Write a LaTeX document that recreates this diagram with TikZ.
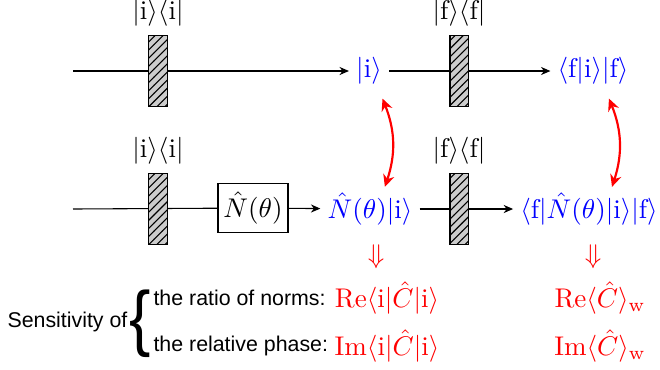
\documentclass[tikz,border=0pt]{standalone}
\usepackage{fontspec}
\usepackage{amsmath}
\usepackage{graphicx}
\usepackage{tikz}
\usetikzlibrary{arrows.meta,positioning,patterns}
\newfontfamily\labelfont{Liberation Sans}
\definecolor{stateBlue}{HTML}{0000FF}
\definecolor{sensRed}{HTML}{FF0000}

\begin{document}
\begin{tikzpicture}[
    x=0.37pt, y=-0.37pt,
    proj/.style={draw, preaction={fill=gray!40}, pattern=north east lines, minimum width=6.7pt, minimum height=26.3pt, inner sep=0pt},
    tag/.style={inner sep=1pt},
    op/.style={draw, fill=white, minimum width=25.9pt, minimum height=17.8pt, inner sep=1pt},
    state/.style={text=stateBlue, inner sep=2.5pt},
    beam/.style={-{Stealth[length=3.5pt, width=3pt]}},
    link/.style={{Stealth[length=4.5pt, width=4.2pt]}-{Stealth[length=4.5pt, width=4.2pt]}, sensRed, line width=0.8pt},
    sens/.style={font=\labelfont\fontsize{7.9}{9.5}\selectfont, inner sep=0pt},
    result/.style={text=sensRed, inner sep=1pt}
]
\useasboundingbox (0,0) rectangle (660,369);

% upper path: no filter
\coordinate (inA) at (73,71);
\node[state] (keti) at (369,71) {$|\mathrm{i}\rangle$};
\node[state] (ampi) at (593,71) {$\langle\mathrm{f}|\mathrm{i}\rangle|\mathrm{f}\rangle$};
\draw[beam] (inA) -- (keti);
\draw[beam] (keti) -- (ampi);
\node[proj] (piA) at (158,71) {};
\node[proj] (pfA) at (459,71) {};
\node[tag, above=2pt of piA] (tagiA) {$|\mathrm{i}\rangle\langle\mathrm{i}|$};
\node[tag, above=2pt of pfA] (tagfA) {$|\mathrm{f}\rangle\langle\mathrm{f}|$};

% lower path: with filter
\coordinate (inB) at (73,209);
\node[op] (filt) at (253,208) {$\hat{N}(\theta)$};
\node[state] (ketN) at (370,209) {$\hat{N}(\theta)|\mathrm{i}\rangle$};
\node[state] (ampN) at (589,209) {$\langle\mathrm{f}|\hat{N}(\theta)|\mathrm{i}\rangle|\mathrm{f}\rangle$};
\draw (inB) -- (filt);
\draw[beam] (filt) -- (ketN);
\draw[beam] (ketN) -- (ampN);
\node[proj] (piB) at (158,209) {};
\node[proj] (pfB) at (459,209) {};
\node[tag, above=2pt of piB] (tagiB) {$|\mathrm{i}\rangle\langle\mathrm{i}|$};
\node[tag, above=2pt of pfB] (tagfB) {$|\mathrm{f}\rangle\langle\mathrm{f}|$};

\draw[link] ([xshift=5pt, yshift=-2.5pt]keti.south) to[bend left=20] ([xshift=5.5pt, yshift=-0.5pt]ketN.north);
\draw[link] ([xshift=5.9pt, yshift=-2.5pt]ampi.south) to[bend left=20] ([xshift=8.5pt, yshift=-0.5pt]ampN.north);

% sensitivity
\node[result] (dnN) at (376,257) {$\Downarrow$};
\node[result] (dnA) at (593,257) {$\Downarrow$};
\node[sens, anchor=west] (sensof) at (7,322) {Sensitivity of};
\node[inner sep=0pt] (brace) at (140,324) {\scalebox{3}[3.4]{\labelfont\fontsize{7.9}{9.5}\selectfont\{}};
\node[sens, anchor=west] (ratio) at (153,298) {the ratio of norms:};
\node[sens, anchor=west] (phase) at (153,346) {the relative phase:};
\node[result] (reN) at (387,298) {$\mathrm{Re}\langle\mathrm{i}|\hat{C}|\mathrm{i}\rangle$};
\node[result] (imN) at (387,346) {$\mathrm{Im}\langle\mathrm{i}|\hat{C}|\mathrm{i}\rangle$};
\node[result] (reW) at (600,298) {$\mathrm{Re}\langle\hat{C}\rangle_{\mathrm{w}}$};
\node[result] (imW) at (600,346) {$\mathrm{Im}\langle\hat{C}\rangle_{\mathrm{w}}$};

\end{tikzpicture}
\end{document}
